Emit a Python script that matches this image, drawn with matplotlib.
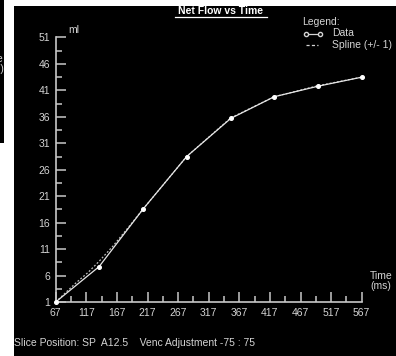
import matplotlib
matplotlib.use("Agg")
import matplotlib.pyplot as plt
from matplotlib.patches import Rectangle
from matplotlib.lines import Line2D
from matplotlib.ticker import FixedLocator

# ---- data ----
time_ms = [67, 138, 210, 281, 353, 424, 496, 567]
flow_ml = [1.0, 7.7, 18.6, 28.5, 35.7, 39.8, 41.8, 43.5]
spline_t = [67, 100, 120, 138, 160, 185, 210, 281, 353, 424, 496, 567]
spline_v = [1.0, 4.6, 6.6, 8.7, 11.5, 15.0, 18.6, 28.5, 35.8, 39.8, 41.9, 43.5]
x_ticks = [67, 117, 167, 217, 267, 317, 367, 417, 467, 517, 567]
y_ticks = [1, 6, 11, 16, 21, 26, 31, 36, 41, 46, 51]

W, H = 396, 356
FG = "#d4d4d4"
AX = "#c8c8c8"
FS = 7.5
plt.rcParams["font.family"] = ["Liberation Sans", "DejaVu Sans"]

fig = plt.figure(figsize=(W / 100, H / 100), dpi=100, facecolor="white")

def fx(x):
    return x / W

def fy(y):
    return 1 - y / H

# panels
fig.patches.append(Rectangle((fx(14), 0), fx(W) - fx(14), fy(6), transform=fig.transFigure,
                             facecolor="black", edgecolor="none", zorder=-10))
fig.patches.append(Rectangle((0, fy(143)), fx(4), 1 - fy(143), transform=fig.transFigure,
                             facecolor="black", edgecolor="none", zorder=-10))
fig.text(fx(4), fy(64), "Time\n(ms)", ha="right", va="center", color=FG, fontsize=FS,
         linespacing=1.0)

# axes
left, right = 55.7, 361.7
top, bottom = 37.5, 302.0
ax = fig.add_axes([fx(left), fy(bottom), fx(right) - fx(left), (bottom - top) / H])
ax.set_facecolor("none")
ax.set_xlim(x_ticks[0], x_ticks[-1])
ax.set_ylim(y_ticks[0], y_ticks[-1])
for s in ("top", "right"):
    ax.spines[s].set_visible(False)
for s in ("left", "bottom"):
    ax.spines[s].set_color(AX)
    ax.spines[s].set_linewidth(1.2)
ax.xaxis.set_major_locator(FixedLocator(x_ticks))
ax.yaxis.set_major_locator(FixedLocator(y_ticks))
ax.xaxis.set_minor_locator(FixedLocator([t + 25 for t in x_ticks[:-1]]))
ax.yaxis.set_minor_locator(FixedLocator([v + 2.5 for v in y_ticks[:-1]]))
ax.tick_params(which="both", direction="in", color=AX, width=1.1, labelcolor=FG,
               labelsize=FS)
ax.tick_params(which="major", length=7, pad=4)
ax.tick_params(which="minor", length=4)

ax.plot(spline_t, spline_v, color="#bdbdbd", lw=0.9, ls=(0, (1.5, 1.5)), zorder=2,
        clip_on=False)
ax.plot(time_ms, flow_ml, color="#e6e6e6", lw=0.9, marker="o", ms=2.6,
        mfc="white", mec="white", zorder=3, clip_on=False)

# labels
fig.text(fx(68), fy(30), "ml", ha="left", va="center", color=FG, fontsize=FS)
fig.text(fx(370), fy(281), "Time\n(ms)", ha="left", va="center", color=FG, fontsize=FS,
         linespacing=1.0)

# title with underline
fig.text(fx(221), fy(11.5), "Net Flow vs Time", ha="center", va="center", color="white",
         fontsize=FS, fontweight="bold")
fig.add_artist(Line2D([fx(175), fx(267)], [fy(16.5), fy(16.5)], color="white", lw=0.9))

# legend
fig.text(fx(302), fy(22), "Legend:", ha="left", va="center", color=FG, fontsize=FS)
fig.add_artist(Line2D([fx(306), fx(320)], [fy(34), fy(34)], color=FG, lw=0.9,
                      marker="o", ms=3, mfc="black", mec=FG, markevery=[0, 1]))
fig.text(fx(332), fy(33.5), "Data", ha="left", va="center", color=FG, fontsize=FS)
fig.add_artist(Line2D([fx(306), fx(318)], [fy(45), fy(45)], color=FG, lw=0.9,
                      ls=(0, (2.5, 1.8))))
fig.text(fx(332), fy(44.5), "Spline (+/- 1)", ha="left", va="center", color=FG, fontsize=FS)

# bottom info
fig.text(fx(14), fy(343), "Slice Position: SP  A12.5    Venc Adjustment -75 : 75",
         ha="left", va="center", color=FG, fontsize=FS)

fig.savefig("out.png", dpi=100, facecolor="white")
